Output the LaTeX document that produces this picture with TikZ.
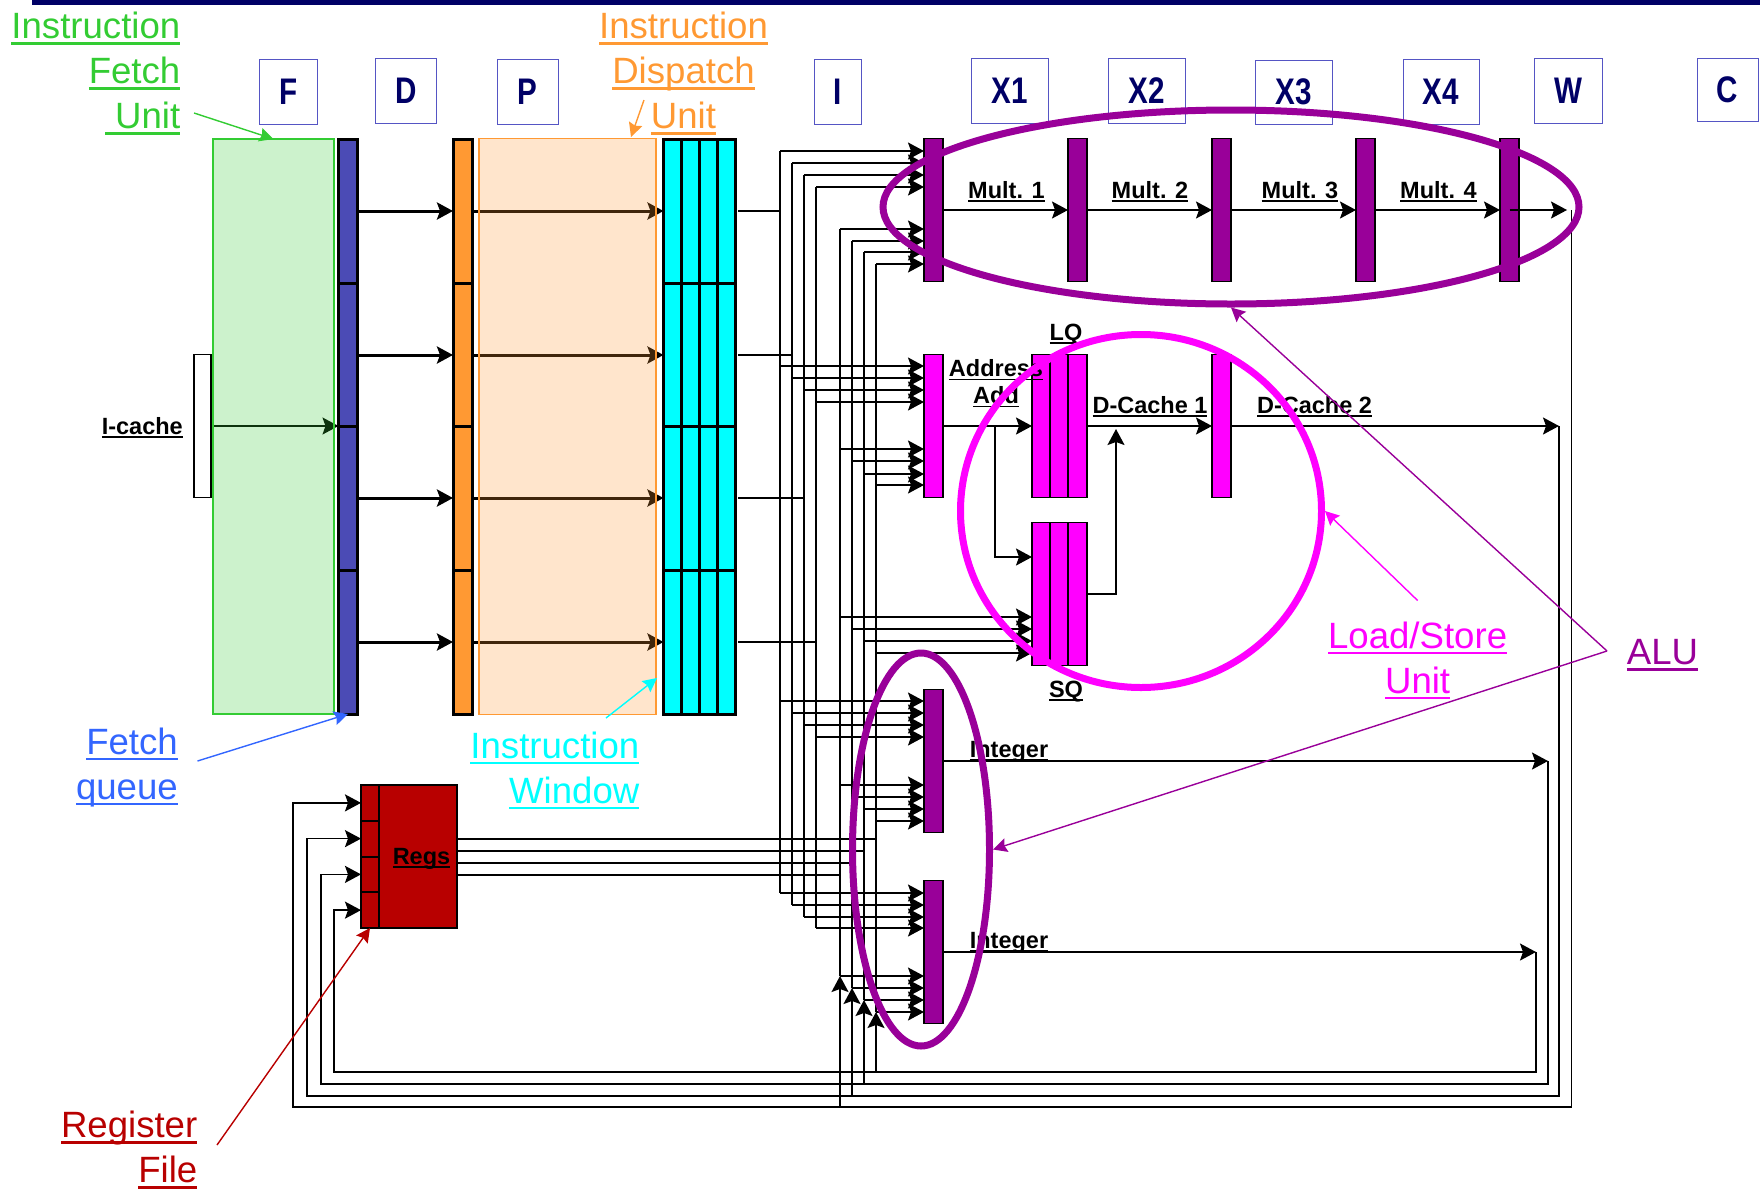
\documentclass[tikz,border=0pt]{standalone}
\usepackage{fontspec}
\setmainfont{Liberation Sans}
\newfontfamily\stagefont[FakeStretch=0.8]{Liberation Sans}
\usepackage{xcolor}
\usetikzlibrary{arrows.meta,positioning,calc,shapes.geometric}
\definecolor{navy}{HTML}{000066}
\definecolor{stageblue}{HTML}{5555C4}
\definecolor{unitgreen}{HTML}{33CC33}
\definecolor{unitorange}{HTML}{FF9933}
\definecolor{unitred}{HTML}{B80000}
\definecolor{unitblue}{HTML}{3366FF}
\definecolor{unitpurple}{HTML}{990099}
\definecolor{unitcyan}{HTML}{00FFFF}
\definecolor{unitpink}{HTML}{FF00FF}
\definecolor{queueblue}{HTML}{4B4BB5}
\newcommand{\ul}[1]{\setbox0=\hbox{#1}\rlap{\rule[-.17em]{\wd0}{.07em}}\box0}

\begin{document}
\begin{tikzpicture}[x=1pt,y=-1pt,>=Latex,
  stagebox/.style={draw=stageblue,line width=1pt,anchor=north west,inner sep=0pt,outer sep=0pt,text=navy,
    font=\stagefont\bfseries\fontsize{37}{37}\selectfont},
  bar/.style={draw=black,line width=1.7pt,anchor=north west,inner sep=0pt,outer sep=0pt,minimum width=19pt,minimum height=143pt},
  cell/.style={draw=black,line width=3pt,anchor=north west,inner sep=0pt,outer sep=0pt,minimum width=19pt,minimum height=144pt},
  shade/.style={line width=1.6pt,anchor=north west,inner sep=0pt,outer sep=0pt,fill opacity=.25},
  ring/.style={ellipse,draw,line width=7pt,inner sep=0pt},
  bus/.style={line width=1.7pt},
  pin/.style={line width=1.7pt,-{Stealth[length=16pt,width=17pt,inset=3pt]}},
  thickpin/.style={line width=3pt,-{Stealth[length=16pt,width=17pt,inset=3pt]}},
  note/.style={line width=1.4pt,-{Stealth[length=14pt,width=14pt,inset=2pt]}},
  lab/.style={font=\bfseries\fontsize{23.5}{27}\selectfont,inner sep=0pt,anchor=base,align=center},
  big/.style={font=\fontsize{36.6}{45}\selectfont,inner sep=0pt}]
\useasboundingbox (0,0) rectangle (1760,1189);
\fill[navy] (32,0) rectangle (1760,5);

\foreach \nm/\txt/\xa/\ya/\bw/\bh in {stF/F/259.5/59.5/58/64.5,stD/D/375/58/61.5/65,stP/P/497/59/61/65,stI/I/814/59/47/65,
  stXa/X1/971/58/77/65,stXb/X2/1108/58/77/65,stXc/X3/1255/60/77/64,stXd/X4/1403/59/76/65,stW/W/1534/58/68/65,stC/C/1697/58/61/63}{
  \node[stagebox,minimum width=\bw pt,minimum height=\bh pt] (\nm) at (\xa,\ya) {\txt};
}

\node[draw=black,line width=1.2pt,anchor=north west,inner sep=0pt,outer sep=0pt,minimum width=17pt,minimum height=143pt] (icache) at (194,354.5) {};
\node[lab,anchor=base east] (icachelab) at (183,434) {\ul{I-cache}};

\foreach \r/\ya in {1/139,2/283,3/426,4/570}{
  \node[cell,fill=queueblue] (fq\r) at (338.5,\ya) {};
  \node[cell,fill=unitorange] (dq\r) at (453,\ya) {};
  \foreach \c/\xa in {1/663.5,2/681.5,3/699.5,4/717}{
    \node[cell,fill=unitcyan,minimum width=18pt] (win\r\c) at (\xa,\ya) {};
  }
  \draw[thickpin] (fq\r.east) -- (dq\r.west);
  \draw[thickpin] (dq\r.east) -- (win\r1.west);
}
\draw[pin,line width=1.4pt] (icache.east) -- (fq3.north west);
\node[shade,draw=unitgreen,fill=unitgreen,minimum width=121pt,minimum height=575pt] (ifubox) at (213,139) {};
\node[shade,draw=unitorange,fill=unitorange,minimum width=177pt,minimum height=576pt] (idubox) at (478.7,138.5) {};

\node[bar,fill=unitpurple] (mult1) at (924,138.5) {};
\node[bar,fill=unitpurple,right=125pt of mult1] (mult2) {};
\node[bar,fill=unitpurple,right=125pt of mult2] (mult3) {};
\node[bar,fill=unitpurple,right=125pt of mult3] (mult4) {};
\node[bar,fill=unitpurple,right=125pt of mult4] (mult5) {};
\node[bar,fill=unitpink] (addr) at (924,354.5) {};
\node[bar,fill=unitpink] (dcache) at (1212,354.5) {};
\foreach \c/\xa in {1/1032,2/1050,3/1068}{
  \node[bar,fill=unitpink] (lq\c) at (\xa,354.5) {};
  \node[bar,fill=unitpink] (sq\c) at (\xa,522.5) {};
}
\node[bar,fill=unitpurple] (int1) at (924,689.5) {};
\node[bar,fill=unitpurple] (int2) at (924,880.5) {};

\node[draw=black,line width=2pt,fill=unitred,anchor=north west,inner sep=0pt,outer sep=0pt,minimum width=96pt,minimum height=143pt] (regs) at (361,785) {};
\node[lab] (regslab) at (421.5,864) {\ul{Regs}};
\foreach \r/\ya in {1/785,2/820.75,3/856.5,4/892.25}{
  \node[draw=black,line width=2pt,fill=unitred,anchor=north west,inner sep=0pt,outer sep=0pt,minimum width=18pt,minimum height=35.75pt] (reg\r) at (361,\ya) {};
}

\coordinate (mulend) at (1567,210);
\coordinate (wba) at (1571.5,210);
\coordinate (wbb) at (1559,426);
\coordinate (wbc) at (1548,761);
\coordinate (wbd) at (1536,952);
\coordinate (sqin) at ($(sq1.north west)+(0,34.5)$);

\foreach \m/\n in {1/2,2/3,3/4,4/5}{
  \draw[pin] (mult\m.east) -- (mult\n.west);
}
\draw[pin] (mult5.center) -- (mulend);
\draw[pin] (addr.east) -- (lq1.west);
\draw[pin] ($(addr.east)!0.585!(lq1.west)$) |- (sqin);
\draw[pin] (lq3.east) -- (dcache.west);
\draw[pin] (dcache.east) -- (wbb);
\draw[pin] (sq3.east) -| (1116,429);
\draw[pin] (int1.east) -- (wbc);
\draw[pin] (int2.east) -- (wbd);

\foreach \tx/\ym/\ya/\yi/\yj/\r in {780/151/366/701/893/1,792/163/378/713/905/2,804/175/390/725/917/3,816/187/402/737/928/4}{
  \draw[bus] ($(win\r4.east)+(3,0)$) -- (\tx,0 |- win\r4.east);
  \draw[bus] (\tx,\ym) -- (\tx,\yj);
  \draw[pin] (\tx,\ym) -- (addr.west |- 0,\ym);
  \draw[pin] (\tx,\ya) -- (addr.west |- 0,\ya);
  \draw[pin] (\tx,\yi) -- (addr.west |- 0,\yi);
  \draw[pin] (\tx,\yj) -- (addr.west |- 0,\yj);
}
\foreach \tx/\ym/\ya/\ys/\yi/\yj/\ry/\by in {840/229/449/617/785/976/875/1107,852/241/461/629/797/988/863/1096,
  864/252/474/641/809/1000/851/1084,876/264/485/653/821/1012/839/1072}{
  \draw[bus] (\tx,\ym) -- (\tx,\yj);
  \draw[pin] (\tx,\ym) -- (addr.west |- 0,\ym);
  \draw[pin] (\tx,\ya) -- (addr.west |- 0,\ya);
  \draw[pin] (\tx,\ys) -- (sq1.west |- 0,\ys);
  \draw[pin] (\tx,\yi) -- (addr.west |- 0,\yi);
  \draw[pin] (\tx,\yj) -- (addr.west |- 0,\yj);
  \draw[bus] (regs.east |- 0,\ry) -- (\tx,\ry);
  \draw[pin] (\tx,\by) -- (\tx,\yj);
}
\foreach \w/\by/\rx/\r in {wba/1107/293/1,wbb/1096/307/2,wbc/1084/321/3,wbd/1072/334/4}{
  \draw[pin] (\w) -- (\w |- 0,\by) -- (\rx,\by) -- (\rx,0 |- reg\r.west) -- (reg\r.west);
}

\foreach \nm/\txt/\xa in {mla/Mult. 1/1006.5,mlb/Mult. 2/1150,mlc/Mult. 3/1300,mld/Mult. 4/1438.5}{
  \node[lab] (\nm) at (\xa,198) {\ul{\txt}};
}
\node[lab,anchor=north] (addlab) at (996,359) {\ul{Address}\\\ul{Add}};
\node[lab] (lqlab) at (1066,340) {\ul{LQ}};
\node[lab] (sqlab) at (1066,697) {\ul{SQ}};
\node[lab] (dca) at (1150,413) {\ul{D-Cache 1}};
\node[lab] (dcb) at (1314.5,413) {\ul{D-Cache 2}};
\node[lab] (inta) at (1009,757) {\ul{Integer}};
\node[lab] (intb) at (1009,948) {\ul{Integer}};

\node[big,text=unitgreen,align=right,anchor=north east] (ifulab) at (180.5,12) {\ul{Instruction}\\\ul{Fetch}\\\ul{\ Unit}};
\node[big,text=unitorange,align=center,anchor=north] (idulab) at (683.5,12) {\ul{Instruction}\\\ul{Dispatch}\\\ul{Unit}};
\node[big,text=unitblue,align=right,anchor=north east] (fqlab) at (178,727.5) {\ul{Fetch}\\\ul{queue}};
\node[big,text=unitcyan,align=right,anchor=north east] (winlab) at (639.5,731.5) {\ul{Instruction}\\\ul{Window}};
\node[big,text=unitred,align=right,anchor=north east] (rflab) at (197.5,1111) {\ul{Register}\\\ul{File}};
\node[big,text=unitpink,align=center,anchor=north] (lsulab) at (1417.6,621.5) {\ul{Load/Store}\\\ul{Unit}};
\node[big,text=unitpurple,anchor=north] (alulab) at (1662.5,639) {\ul{ALU}};

\node[ring,draw=unitpurple,minimum width=696pt,minimum height=194pt] (mulring) at (1231,207) {};
\node[ring,draw=unitpink,minimum width=361pt,minimum height=353pt] (loadring) at (1141,511) {};
\node[ring,draw=unitpurple,minimum width=137pt,minimum height=393pt] (intring) at (921,849.5) {};

\coordinate (ifutail) at (194,113);
\coordinate (idutail) at (644,100);
\coordinate (iduhead) at (631,137);
\coordinate (fqtail) at (197.5,761);
\coordinate (wintail) at (606,718);
\coordinate (winhead) at (657,678);
\coordinate (rftail) at (217,1145);
\coordinate (lsutail) at (1417.6,600.5);
\coordinate (alutail) at (1607,651);
\draw[note,draw=unitgreen,fill=unitgreen] (ifutail) -- (ifubox.north);
\draw[note,draw=unitorange,fill=unitorange] (idutail) -- (iduhead);
\draw[note,draw=unitblue,fill=unitblue] (fqtail) -- (fq4.south);
\draw[note,draw=unitcyan,fill=unitcyan] (wintail) -- (winhead);
\draw[note,draw=unitred,fill=unitred] (rftail) -- (reg4.south);
\draw[note,draw=unitpink,fill=unitpink] (lsutail) -- (loadring.east);
\draw[note,draw=unitpurple,fill=unitpurple] (alutail) -- (mulring.south);
\draw[note,draw=unitpurple,fill=unitpurple] (alutail) -- (intring.east);
\end{tikzpicture}
\end{document}
